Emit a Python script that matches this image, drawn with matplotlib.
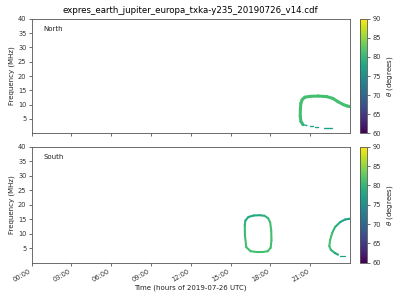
import numpy as np
import matplotlib
matplotlib.use("Agg")
import matplotlib.pyplot as plt
from matplotlib.collections import LineCollection
from matplotlib import cm, colors

# ---- data (hours of day, frequency MHz, theta degrees) ----
north_arc_t = [20.45, 20.3, 20.25, 20.26, 20.3, 20.4, 20.6, 21.0, 21.6, 22.25, 22.7, 23.1, 23.5, 23.8, 24.0]
north_arc_f = [3.0, 4.1, 6.0, 8.5, 10.5, 11.8, 12.6, 12.9, 13.0, 12.8, 12.2, 11.0, 10.0, 9.5, 9.3]
north_arc_th = [79.5, 80.5, 81, 81, 81, 81, 81, 81, 81, 81, 81, 81, 81, 81, 81]

north_tail_t = [[20.5, 20.75], [21.0, 21.24], [21.36, 21.57], [22.06, 22.67]]
north_tail_f = [[2.9, 2.7], [2.5, 2.5], [2.3, 2.3], [1.8, 1.8]]
north_tail_th = [78.5, 78, 77.5, 77]

south_o_t = [17.2, 17.55, 17.82, 17.98, 18.06, 18.08, 18.02, 17.8, 17.4, 17.0, 16.5, 16.18, 16.08, 16.07, 16.12, 16.35, 16.75, 17.2]
south_o_f = [16.4, 16.2, 15.4, 14.0, 11.3, 7.8, 5.2, 4.0, 3.7, 3.7, 4.0, 5.4, 9.5, 13.0, 14.6, 15.8, 16.3, 16.4]
south_o_th = [78, 79, 80, 81, 81, 81, 81, 81, 81, 81, 81, 81, 80.5, 80, 79, 78, 78, 78]

south_arc_t = [24.0, 23.62, 23.25, 22.87, 22.65, 22.5, 22.44, 22.57, 22.87, 23.1]
south_arc_f = [15.2, 14.9, 14.0, 12.3, 10.2, 7.8, 5.75, 4.4, 3.35, 2.8]
south_arc_th = [77, 77, 78, 79.5, 80.5, 81, 81, 80.5, 78.5, 77.5]
south_tail_t = [23.25, 23.62]
south_tail_f = [2.3, 2.3]
south_tail_th = 77

tick_hours = [0, 3, 6, 9, 12, 15, 18, 21]
tick_labels = ["00:00", "03:00", "06:00", "09:00", "12:00", "15:00", "18:00", "21:00"]
cbar_ticks = [60, 65, 70, 75, 80, 85, 90]

cmap = matplotlib.colormaps["viridis"]
norm = colors.Normalize(vmin=60, vmax=90)

fig = plt.figure(figsize=(4, 3), dpi=100)
ax1 = fig.add_axes([0.079, 0.556, 0.796, 0.381])
ax2 = fig.add_axes([0.079, 0.124, 0.796, 0.387])
cax1 = fig.add_axes([0.900, 0.556, 0.018, 0.381])
cax2 = fig.add_axes([0.900, 0.124, 0.018, 0.387])


def add_curve(ax, t, f, th, lw):
    pts = np.column_stack([t, f]).reshape(-1, 1, 2)
    segs = np.concatenate([pts[:-1], pts[1:]], axis=1)
    th = np.asarray(th, float)
    segc = 0.5 * (th[:-1] + th[1:])
    lc = LineCollection(segs, cmap=cmap, norm=norm, linewidths=lw, capstyle="round", joinstyle="round")
    lc.set_array(segc)
    ax.add_collection(lc)


add_curve(ax1, north_arc_t, north_arc_f, north_arc_th, 2.2)
for tt, ff, th in zip(north_tail_t, north_tail_f, north_tail_th):
    add_curve(ax1, tt, ff, [th, th], 1.0)

add_curve(ax2, south_o_t, south_o_f, south_o_th, 1.5)
add_curve(ax2, south_arc_t, south_arc_f, south_arc_th, 1.5)
add_curve(ax2, south_tail_t, south_tail_f, [south_tail_th, south_tail_th], 0.9)

for ax, name in ((ax1, "North"), (ax2, "South")):
    ax.set_xlim(0, 24)
    ax.set_ylim(0, 40)
    ax.set_yticks([5, 10, 15, 20, 25, 30, 35, 40])
    ax.set_xticks(tick_hours)
    ax.tick_params(labelsize=4.8, length=2.2, width=0.5, pad=1.5, colors="#333333")
    for s in ax.spines.values():
        s.set_linewidth(0.6)
        s.set_color("#555555")
    ax.set_ylabel("Frequency (MHz)", fontsize=5, labelpad=2, color="#222222")
    ax.text(0.036, 0.91, name, transform=ax.transAxes, fontsize=5, va="center", color="#222222")

ax1.set_xticklabels([])
ax2.set_xticklabels(tick_labels, rotation=30, ha="right")
ax2.set_xlabel("Time (hours of 2019-07-26 UTC)", fontsize=5, labelpad=1, color="#222222")
ax1.set_title("expres_earth_jupiter_europa_txka-y235_20190726_v14.cdf", fontsize=6.2, pad=4)

sm = cm.ScalarMappable(norm=norm, cmap=cmap)
for cax in (cax1, cax2):
    cb = fig.colorbar(sm, cax=cax)
    cb.set_ticks(cbar_ticks)
    cb.ax.tick_params(labelsize=4.8, length=2.2, width=0.5, pad=1.5, colors="#333333")
    cb.outline.set_linewidth(0.6)
    cb.outline.set_edgecolor("#555555")
    cb.set_label(r"$\theta$ (degrees)", fontsize=5, labelpad=3, color="#222222")

fig.savefig("out.png", dpi=100)
